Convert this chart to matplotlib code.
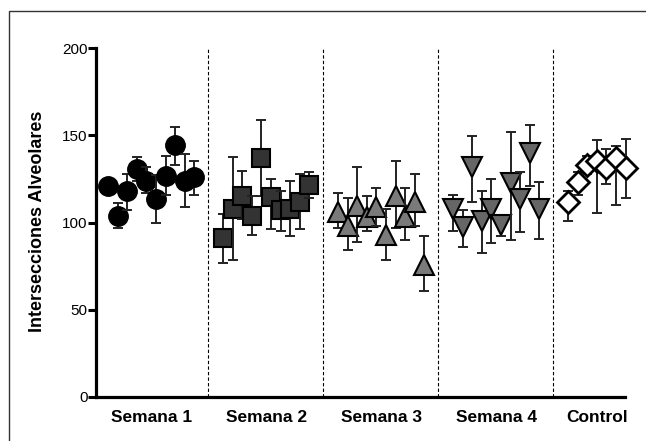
import matplotlib
matplotlib.use('Agg')
import matplotlib.pyplot as plt
from matplotlib.patches import Rectangle

plt.rcParams['font.family'] = ['Liberation Sans', 'DejaVu Sans']

# ---------------- data ----------------
groups = ['Semana 1', 'Semana 2', 'Semana 3', 'Semana 4', 'Control']
yticks = [0, 50, 100, 150, 200]

sem1_mean = [121, 104, 118, 130.5, 124, 113.5, 126.5, 144.5, 124, 126]
sem1_lo   = [118, 97, 107, 124, 117, 100, 116, 133, 109, 116]
sem1_hi   = [124, 111, 128, 137.5, 132, 127, 138, 155, 139, 135]

sem2_mean = [91, 108, 115, 104, 137, 114.5, 107, 108, 112, 121.5]
sem2_lo   = [77, 78.5, 102, 93, 115, 96, 95, 92, 96, 114]
sem2_hi   = [105, 137.5, 129.5, 115, 159, 125, 118, 124, 128, 129]

sem3_mean = [106, 98, 109.5, 103, 109, 93, 115, 103, 112, 75.5]
sem3_lo   = [97, 84, 89, 95, 98, 78.5, 97, 90, 98, 61]
sem3_hi   = [117, 114, 132, 115, 120, 108, 135, 120, 128, 92]

sem4_mean = [108, 97.5, 132, 101, 108, 98.6, 122.5, 113.5, 140, 108]
sem4_lo   = [95, 86, 112, 82.6, 88, 92, 90, 94.6, 121, 90.5]
sem4_hi   = [116, 107, 149.6, 118, 125, 101, 152, 129, 156, 123]

ctrl_mean = [112, 123, 133, 135, 131, 137, 131]
ctrl_lo   = [101, 116, 128, 105.5, 122, 110, 114]
ctrl_hi   = [118, 129, 138, 147, 142, 144, 148]

series = [
    (sem1_mean, sem1_lo, sem1_hi, dict(marker='o', ms=14, mfc='black', mec='black', mew=1.0)),
    (sem2_mean, sem2_lo, sem2_hi, dict(marker='s', ms=13, mfc='#333333', mec='black', mew=1.5)),
    (sem3_mean, sem3_lo, sem3_hi, dict(marker='^', ms=14, mfc='#7a7a7a', mec='black', mew=1.5)),
    (sem4_mean, sem4_lo, sem4_hi, dict(marker='v', ms=14, mfc='#666666', mec='black', mew=1.5)),
    (ctrl_mean, ctrl_lo, ctrl_hi, dict(marker='D', ms=11, mfc='white', mec='black', mew=2.0)),
]

# ---------------- layout ----------------
W, H = 646, 441
fig = plt.figure(figsize=(W / 100, H / 100), dpi=100)
ax = fig.add_axes([96 / W, 44 / H, 529 / W, 349 / H])
ax.set_xlim(96, 625)
ax.set_ylim(0, 200)

group_start = 108
group_step = 115
point_step = 9.6

tick_pos = []
z = 2
for g, (mean, lo, hi, style) in enumerate(series):
    xs = [group_start + g * group_step + i * point_step for i in range(len(mean))]
    tick_pos.append(sum(xs) / len(xs))
    for x, m, l, h in zip(xs, mean, lo, hi):
        ax.errorbar([x], [m], yerr=[[m - l], [h - m]], fmt='none',
                    ecolor='#222222', elinewidth=1.4, capsize=3.3, capthick=1.4,
                    zorder=z, clip_on=False)
        ax.plot([x], [m], linestyle='none', zorder=z + 1, clip_on=False, **style)
        z += 2
    if g < len(series) - 1:
        ax.axvline(group_start + g * group_step + 100, color='black', lw=0.8,
                   ls=(0, (3, 2)), zorder=1)

ax.spines['top'].set_visible(False)
ax.spines['right'].set_visible(False)
for s in ('left', 'bottom'):
    ax.spines[s].set_linewidth(2.3)
    ax.spines[s].set_color('black')

ax.set_yticks(yticks)
ax.set_yticklabels([str(v) for v in yticks], fontsize=11)
ax.tick_params(axis='y', direction='out', length=5.5, width=2.2, pad=0.5)
ax.set_xticks(tick_pos)
ax.set_xticklabels(groups, fontsize=12.5, fontweight='bold')
ax.tick_params(axis='x', length=0, pad=9)

fig.text(38 / W, 220 / H, 'Intersecciones Alveolares', rotation=90,
         ha='center', va='center', fontsize=13, fontweight='bold')

fig.add_artist(Rectangle((9 / W, -5 / H), (660 - 9) / W, (430 + 5) / H,
                         transform=fig.transFigure, fill=False,
                         edgecolor='#333333', lw=1.0))

fig.savefig('out.png', dpi=100)
